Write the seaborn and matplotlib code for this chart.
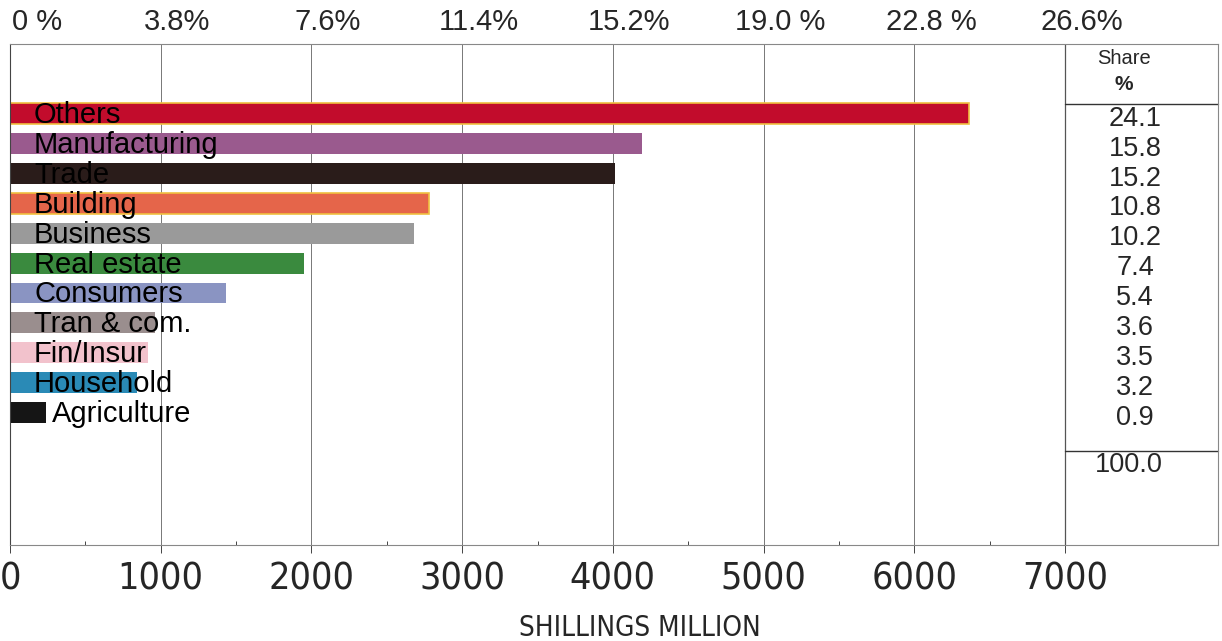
import matplotlib
matplotlib.use("Agg")
import matplotlib.pyplot as plt
from matplotlib.ticker import FixedLocator
import matplotlib.transforms as mtransforms
import seaborn as sns
import pandas as pd

# ---- data ----
sectors = ["Others", "Manufacturing", "Trade", "Building", "Business",
           "Real estate", "Consumers", "Tran & com.", "Fin/Insur",
           "Household", "Agriculture"]
values = [6360, 4190, 4015, 2780, 2680, 1950, 1430, 960, 915, 840, 240]
shares = ["24.1", "15.8", "15.2", "10.8", "10.2", "7.4", "5.4", "3.6",
          "3.5", "3.2", "0.9"]
total_share = "100.0"
x_ticks = [0, 1000, 2000, 3000, 4000, 5000, 6000, 7000]
pct_labels = ["0 %", "3.8%", "7.6%", "11.4%", "15.2%", "19.0 %", "22.8 %", "26.6%"]
colors = ["#c20c2c", "#9a5a8e", "#2a1c1a", "#e5654a", "#9a9a9a",
          "#3a8a3e", "#8a94c2", "#9a8e8e", "#f2c2cc", "#2a8ab6", "#151515"]

sns.set_theme(style="white")
plt.rcParams["font.family"] = ["Liberation Sans", "DejaVu Sans"]

df = pd.DataFrame({"sector": sectors, "value": values})

fig = plt.figure(figsize=(12.22, 6.41), dpi=100)
ax = fig.add_axes([10 / 1222, 96 / 641, 1208 / 1222, 501 / 641])

sns.barplot(data=df, y="sector", x="value", hue="sector", palette=colors,
            orient="h", width=0.7, legend=False, ax=ax, saturation=1)

# yellowish outline on some bars as in the scanned original
for p, name in zip(ax.patches, sectors):
    p.set_linewidth(0)
    if name in ("Others", "Building"):
        p.set_edgecolor("#f0c040")
        p.set_linewidth(1.2)

ax.set_xlim(0, 8015)
ax.set_ylim(14.43, -2.33)
ax.set_ylabel("")
ax.set_yticks([])

# grid lines
for xv in x_ticks[1:-1]:
    ax.axvline(xv, color="#777777", lw=0.7, zorder=0)
ax.axvline(x_ticks[-1], color="#555555", lw=0.9, zorder=0)

# sector labels
for i, (name, v) in enumerate(zip(sectors, values)):
    lx = v + 40 if v < 400 else 160
    ax.text(lx, i + 0.05, name, ha="left", va="center", fontsize=21,
            color="black", zorder=5)

# share table
tx = 7465
ax.text(7392, -1.85, "Share", ha="center", va="center", fontsize=14.5)
ax.text(7392, -0.97, "%", ha="center", va="center", fontsize=15,
        fontweight="bold")
ax.plot([7000, 8015], [-0.33, -0.33], color="#333333", lw=1.0, clip_on=False)
for i, s in enumerate(shares):
    ax.text(tx, i + 0.17, s, ha="center", va="center", fontsize=19.5)
ax.plot([7000, 8015], [11.3, 11.3], color="#333333", lw=1.0, clip_on=False)
ax.text(7420, 11.77, total_share, ha="center", va="center", fontsize=19.5)

# spines
for sp in ax.spines.values():
    sp.set_visible(True)
    sp.set_color("#888888")
    sp.set_linewidth(0.8)
ax.spines["left"].set_color("#444444")

# bottom axis
ax.set_xticks(x_ticks)
ax.set_xticklabels([str(t) for t in x_ticks], family="DejaVu Sans",
                   stretch="condensed", fontsize=27)
ax.xaxis.set_minor_locator(FixedLocator([500 + 1000 * k for k in range(7)]))
ax.tick_params(axis="x", which="major", direction="out", length=6,
               width=0.7, color="#444444", pad=6, bottom=True)
ax.tick_params(axis="x", which="minor", direction="in", length=3,
               width=0.7, color="#444444", bottom=True)
ax.set_xlabel("SHILLINGS MILLION", family="DejaVu Sans", stretch="condensed",
              fontsize=20)
ax.xaxis.set_label_coords(0.5215, -0.137)
ax.xaxis.label.set_va("top")

# top percentage labels (sit a little right of the grid lines)
blend = mtransforms.blended_transform_factory(ax.transData, ax.transAxes)
for t, lab in zip(x_ticks, pct_labels):
    pos = t + 110 if t > 0 else 180
    ax.text(pos, 1.015, lab, transform=blend, ha="center", va="bottom",
            fontsize=21, clip_on=False)

fig.savefig("out.png", dpi=100)
